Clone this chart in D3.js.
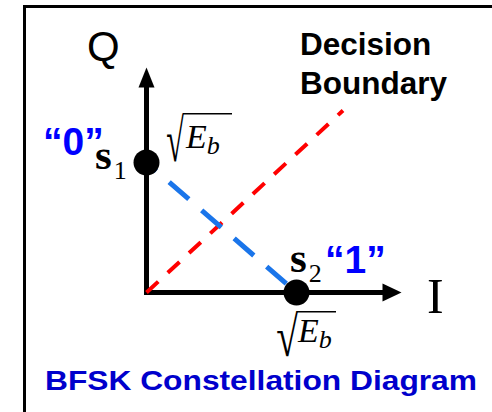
<!DOCTYPE html>
<html>
<head>
<meta charset="utf-8">
<script src="https://cdn.jsdelivr.net/npm/d3@7"></script>
<style>
html,body{margin:0;padding:0;background:#fff;}
svg{display:block;}
</style>
</head>
<body>
<svg id="chart" width="492" height="412"></svg>
<script>
// ---- data ----
const pointNames = ["s", "s"];
const pointSubs = ["1", "2"];
const bitLabels = ["\u201C0\u201D", "\u201C1\u201D"];
const pointI = [0, 1];
const pointQ = [1, 0];
const boundaryI = [0, 1.31];
const boundaryQ = [0, 1.40];
const axisLabels = ["I", "Q"];
const axisMax = [1.70, 1.73];
const titleText = "BFSK Constellation Diagram";
const boundaryLabel = ["Decision", "Boundary"];

const svg = d3.select("#chart");
const x = d3.scaleLinear().domain([0, 1]).range([146.5, 296.5]);
const y = d3.scaleLinear().domain([0, 1]).range([292.5, 162.5]);

// frame
svg.append("path").attr("d", "M24.5,412 V6.5 H492")
  .attr("fill", "none").attr("stroke", "#000").attr("stroke-width", 3);

// axes
const ax = d3.path();
ax.moveTo(x(0), y(axisMax[1]) + 19);
ax.lineTo(x(0), y(0));
ax.lineTo(x(axisMax[0]) - 18, y(0));
svg.append("path").attr("d", ax.toString()).attr("fill", "none")
  .attr("stroke", "#000").attr("stroke-width", 5).attr("stroke-linejoin", "miter");
const tipQ = [x(0), y(axisMax[1])];
svg.append("path").attr("d", `M${tipQ[0]},${tipQ[1]} L${tipQ[0]+8},${tipQ[1]+20} L${tipQ[0]-8},${tipQ[1]+20} Z`).attr("fill", "#000");
const tipI = [x(axisMax[0]), y(0)];
svg.append("path").attr("d", `M${tipI[0]},${tipI[1]} L${tipI[0]-19},${tipI[1]-9} L${tipI[0]-19},${tipI[1]+9} Z`).attr("fill", "#000");

// decision boundary (red dashed)
const line = d3.line().x(d => x(d[0])).y(d => y(d[1]));
svg.append("path").attr("d", line(boundaryI.map((v, i) => [v, boundaryQ[i]])))
  .attr("fill", "none").attr("stroke", "#ff0000").attr("stroke-width", 4)
  .attr("stroke-dasharray", "16,13");

// blue dashed line between symbols
svg.append("path").attr("d", line(pointI.map((v, i) => [v, pointQ[i]])))
  .attr("fill", "none").attr("stroke", "#1a75ea").attr("stroke-width", 5)
  .attr("stroke-dasharray", "26,17").attr("stroke-dashoffset", 13);

// points
svg.selectAll("circle.pt").data(pointI).join("circle").attr("class", "pt")
  .attr("cx", (d, i) => x(d)).attr("cy", (d, i) => y(pointQ[i])).attr("r", 13).attr("fill", "#000");

// axis labels
svg.append("text").text(axisLabels[1]).attr("x", 87).attr("y", 61)
  .attr("font-family", "Liberation Sans, Arial, sans-serif").attr("font-size", 42).attr("fill", "#000");
svg.append("text").text(axisLabels[0]).attr("x", 427).attr("y", 313)
  .attr("font-family", "Liberation Serif, Times New Roman, serif").attr("font-size", 50).attr("fill", "#000");

// decision boundary label
boundaryLabel.forEach((t, i) => {
  svg.append("text").text(t).attr("x", 300).attr("y", 55 + i * 39)
    .attr("font-family", "Liberation Sans, Arial, sans-serif").attr("font-weight", "bold")
    .attr("font-size", 31.5).attr("fill", "#000");
});

// symbol labels
const symPos = [[95, 169], [290, 272]];
pointNames.forEach((n, i) => {
  const t = svg.append("text").attr("x", symPos[i][0]).attr("y", symPos[i][1])
    .attr("font-family", "Liberation Serif, Times New Roman, serif").attr("fill", "#000");
  t.append("tspan").text(n).attr("font-weight", "bold").attr("font-size", 43);
  t.append("tspan").text(pointSubs[i]).attr("font-size", 26).attr("dx", 2).attr("dy", 10);
});

// bit labels
const bitPos = [[43, 155], [325, 273]];
bitLabels.forEach((b, i) => {
  svg.append("text").text(b).attr("x", bitPos[i][0]).attr("y", bitPos[i][1])
    .attr("font-family", "Liberation Sans, Arial, sans-serif").attr("font-weight", "bold")
    .attr("font-size", 39).attr("fill", "#0000ff");
});

// sqrt(E_b) labels
const cv = document.createElement("canvas").getContext("2d");
const radFont = "Liberation Serif";
cv.font = `100px "${radFont}"`;
const m = cv.measureText("\u221A");
const gW = m.actualBoundingBoxLeft + m.actualBoundingBoxRight;
const gH = m.actualBoundingBoxAscent + m.actualBoundingBoxDescent;
const rad = [
  {l: 167, r: 184, top: 113, bot: 162, end: 232, ex: 186, base: 148},
  {l: 277, r: 298, top: 311, bot: 357, end: 336, ex: 298, base: 342}
];
rad.forEach(r => {
  const g = svg.append("g");
  const sx = (r.r - r.l) / gW, sy = (r.bot - r.top) / gH;
  g.append("text").text("\u221A")
    .attr("transform", `translate(${r.l + m.actualBoundingBoxLeft * sx},${r.top + m.actualBoundingBoxAscent * sy}) scale(${sx},${sy})`)
    .attr("font-family", radFont).attr("font-size", 100).attr("fill", "#000");
  g.append("line").attr("x1", r.r - 1).attr("x2", r.end).attr("y1", r.top + 0.8).attr("y2", r.top + 0.8)
    .attr("stroke", "#000").attr("stroke-width", 1.6);
  const t = g.append("text").attr("x", r.ex).attr("y", r.base)
    .attr("font-family", "Liberation Serif, Times New Roman, serif").attr("font-style", "italic").attr("fill", "#000");
  t.append("tspan").text("E").attr("font-size", 34);
  t.append("tspan").text("b").attr("font-size", 26).attr("dx", 0).attr("dy", 6);
});

// title
svg.append("text").text(titleText).attr("x", 45).attr("y", 390)
  .attr("font-family", "Liberation Sans, Arial, sans-serif").attr("font-weight", "bold")
  .attr("font-size", 28).attr("fill", "#0000cc")
  .attr("textLength", 432).attr("lengthAdjust", "spacingAndGlyphs");
</script>
</body>
</html>
